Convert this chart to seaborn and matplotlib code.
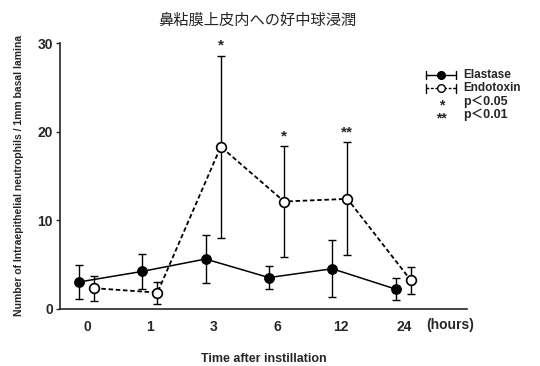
import numpy as np
import pandas as pd
import matplotlib
matplotlib.use("Agg")
import matplotlib.pyplot as plt
import seaborn as sns
from matplotlib.lines import Line2D

# values
hours = ["0", "1", "3", "6", "12", "24"]
elastase_mean = [3.0, 4.2, 5.6, 3.5, 4.5, 2.2]
elastase_sd = [1.9, 1.95, 2.7, 1.3, 3.2, 1.2]
endotoxin_mean = [2.3, 1.8, 18.3, 12.1, 12.4, 3.2]
endotoxin_sd = [1.4, 1.25, 10.3, 6.3, 6.4, 1.55]
signif = ["", "", "*", "*", "**", ""]

sns.set_style("ticks")
plt.rcParams['font.family'] = ['Liberation Sans', 'DejaVu Sans']

x = np.arange(len(hours))
df = pd.DataFrame({
    "pos": np.concatenate([x - 0.13, x + 0.11]),
    "value": elastase_mean + endotoxin_mean,
    "group": ["Elastase"] * len(hours) + ["Endotoxin"] * len(hours),
})

fig = plt.figure(figsize=(5.4, 3.66), dpi=100)
ax = fig.add_axes([0.111, 0.157, 0.754, 0.725])

ela = df[df.group == "Elastase"]
endo = df[df.group == "Endotoxin"]

ax.errorbar(ela.pos, ela.value, yerr=elastase_sd, fmt="none", ecolor="black",
            elinewidth=1.0, capsize=3, capthick=1.0, zorder=2)
ax.errorbar(endo.pos, endo.value, yerr=endotoxin_sd, fmt="none", ecolor="black",
            elinewidth=1.0, capsize=3, capthick=1.0, zorder=2)

sns.lineplot(data=ela, x="pos", y="value", ax=ax, color="black", lw=1.1,
             marker="o", markersize=7, markerfacecolor="black",
             markeredgecolor="black", legend=False, zorder=3)
sns.lineplot(data=endo, x="pos", y="value", ax=ax, color="black", lw=1.3,
             linestyle=(0, (2.5, 1.5)), marker="o", markersize=7,
             markerfacecolor="white", markeredgecolor="black",
             markeredgewidth=1.2, legend=False, zorder=4)

# significance marks above endotoxin bars
for xi, m, s, mark in zip(endo.pos, endotoxin_mean, endotoxin_sd, signif):
    if mark:
        ax.text(xi, m + s + 0.3, mark, ha="center", va="bottom",
                fontsize=11, fontweight="bold")

ax.set_xlim(-0.43, 6.0)
ax.set_ylim(0, 30)
ax.set_yticks([0, 10, 20, 30])
ax.set_yticklabels(["0", "10", "20", "30"], fontsize=10, fontweight="bold")
ax.set_xticks(x)
ax.set_xticklabels(hours, fontsize=10, fontweight="bold")
ax.tick_params(axis="x", length=0, pad=8)
ax.tick_params(axis="y", length=3, width=1, pad=2)
ax.text(5.74, -0.062, "(hours)", transform=ax.get_xaxis_transform(),
        ha="center", va="center", fontsize=10, fontweight="bold")
sns.despine(ax=ax)
for sp in ["left", "bottom"]:
    ax.spines[sp].set_linewidth(1.2)

ax.set_xlabel("Time after instillation", fontsize=9, fontweight="bold", labelpad=14)
ax.set_ylabel("Number of Intraepithelial neutrophils / 1mm basal lamina",
              fontsize=7.5, fontweight="bold", labelpad=10)

fig.text(0.477, 0.945, "鼻粘膜上皮内への好中球浸潤", ha="center", va="center",
         fontsize=11, family=["Noto Sans CJK JP", "DejaVu Sans"])

# hand-drawn legend in the top right
lx0, lx1 = 0.788, 0.845
rows = [0.795, 0.759, 0.721, 0.686]
for yy, face in zip(rows[:2], ["black", "white"]):
    ls = "-" if face == "black" else (0, (2, 1.2))
    fig.add_artist(Line2D([lx0, lx1], [yy, yy], color="black", lw=1, ls=ls))
    for xe in (lx0, lx1):
        fig.add_artist(Line2D([xe, xe], [yy - 0.012, yy + 0.012], color="black", lw=1))
    fig.add_artist(Line2D([(lx0 + lx1) / 2], [yy], marker="o", markersize=5.5,
                          markerfacecolor=face, markeredgecolor="black", lw=0))
labels = ["Elastase", "Endotoxin"]
for yy, lab in zip(rows[:2], labels):
    fig.text(0.857, yy, lab, ha="left", va="center", fontsize=8.5, fontweight="bold")
for yy, mark, lab in zip(rows[2:], ["*", "**"], ["p＜0.05", "p＜0.01"]):
    fig.text(0.818, yy - 0.01, mark, ha="center", va="center", fontsize=10, fontweight="bold")
    fig.text(0.857, yy, lab, ha="left", va="center", fontsize=9, fontweight="bold",
             family=["Liberation Sans", "Noto Sans CJK JP"])

fig.savefig("out.png", dpi=100)
